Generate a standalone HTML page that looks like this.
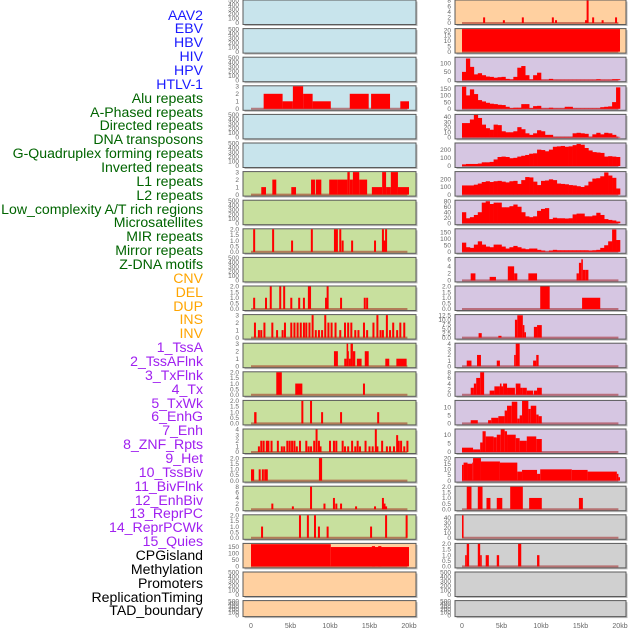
<!DOCTYPE html>
<html><head><meta charset="utf-8">
<style>
html,body{margin:0;padding:0;background:#fff;}
#wrap{position:relative;width:630px;height:630px;overflow:hidden;font-family:"Liberation Sans",sans-serif;}
#labels{position:absolute;left:0;top:0;width:203px;}
.lab{position:absolute;right:0;font-size:14.1px;line-height:14px;white-space:nowrap;}
svg{position:absolute;left:0;top:0;}
</style></head>
<body>
<div id="wrap">
<div id="labels"></div>
<svg id="chart" width="630" height="630"></svg>
</div>
<script>
const trackLabels = ["AAV2","EBV","HBV","HIV","HPV","HTLV-1","Alu repeats","A-Phased repeats","Directed repeats","DNA transposons","G-Quadruplex forming repeats","Inverted repeats","L1 repeats","L2 repeats","Low_complexity A/T rich regions","Microsatellites","MIR repeats","Mirror repeats","Z-DNA motifs","CNV","DEL","DUP","INS","INV","1_TssA","2_TssAFlnk","3_TxFlnk","4_Tx","5_TxWk","6_EnhG","7_Enh","8_ZNF_Rpts","9_Het","10_TssBiv","11_BivFlnk","12_EnhBiv","13_ReprPC","14_ReprPCWk","15_Quies","CPGisland","Methylation","Promoters","ReplicationTiming","TAD_boundary"];
const labelGroups = [6,13,5,15,5];
const xTicks = [0,5,10,15,20];
const xTickLabels = ["0","5kb","10kb","15kb","20kb"];

const E = ["0","100","200","300","400","500"];
const H2 = ["0.0","0.5","1.0","1.5","2.0"];
const T3 = ["0","1","2","3"];
const T4 = ["0","1","2","3","4"];
const T8 = ["0","2","4","6","8"];

const L_ticks = [E,E,E,T3,E,E,T3,E,H2,E,H2,T3,T3,H2,H2,T4,H2,T8,H2,["0","50","100","150"],E,E];
const L_ymax = [500,500,500,3,500,500,3,500,2,500,2,3,3,2,2,4,2,8,2,172,500,500];
const L_segs = [
 [],[],[],
 [[1.6,4.0,2],[4.0,5.3,1],[5.3,6.6,3],[6.6,7.8,2],[7.8,10.1,1],[12.5,14.9,2],[15.2,17.6,2],[18.9,20,1]],
 [],[],
 [[1.3,1.9,1],[2.7,3.2,2],[5.1,5.7,1],[7.6,8.1,2],[8.2,8.9,2],[9.9,10.9,2],[10.9,12.2,2],[12.2,12.5,3],[12.5,12.9,2],[12.9,13.7,3],[13.7,14.7,2],[15.3,16.6,1],[16.6,17.1,3],[17.1,17.7,1],[17.7,18.6,3],[18.6,20,1]],
 [],
 [[10.5,11.0,2]],
 [],
 [[7.2,7.6,2]],
 [],
 [[10.5,11.0,2],[11.8,12.1,1],[12.1,12.3,3],[12.3,12.4,2],[12.4,12.6,1],[12.6,12.9,3],[12.9,13.2,2],[13.4,14.0,1],[14.4,14.9,2],[17.0,17.5,1],[18.4,19.7,1]],
 [[3.2,3.9,2],[5.6,6.5,1]],
 [[0.4,0.7,1]],
 [],
 [[0.0,0.4,1],[8.6,9.0,2]],
 [],
 [],
 [[0,10.1,170],[10.1,20,148],[15.3,15.7,155],[16.1,16.5,155]],
 [],[]
];
const L_spikes = [
 [],[],[],[],[],[],[],[],
 [[0.4,2],[2.8,2],[5.2,1],[7.7,2],[11.3,2],[11.6,1],[12.8,1],[15.7,1],[16.7,2],[16.9,1],[17.1,2]],
 [],
 [[0.4,1],[1.9,1],[2.5,2],[3.7,2],[4.2,2],[5.1,1],[6.1,1],[6.7,1],[9.5,1],[9.7,2],[11.4,1],[14.4,1],[14.7,1]],
 [[0.5,2],[1.0,1],[1.3,1],[1.7,2],[2.7,2],[3.3,1],[4.0,1],[4.3,2],[5.1,2],[5.5,2],[5.9,2],[6.3,2],[6.7,2],[7.0,2],[7.4,2],[7.8,3],[8.2,1],[8.6,1],[9.0,1],[9.4,3],[9.8,2],[10.2,2],[10.7,2],[11.3,1],[11.9,2],[12.3,2],[12.7,2],[13.2,1],[13.6,1],[14.3,2],[14.7,1],[15.5,2],[16.0,3],[16.4,1],[16.7,1],[17.2,3],[17.6,1],[18.0,2],[18.5,1],[18.9,2],[19.4,2]],
 [],
 [[14.3,1]],
 [[6.5,2],[7.6,2],[9.0,1],[11.4,1],[16.1,1]],
 [[1.0,1],[1.3,2],[1.6,2],[2.0,2],[2.2,2],[2.6,2],[3.4,2],[3.9,1],[4.2,1],[4.6,2],[4.9,2],[5.2,2],[5.5,2],[5.8,1],[6.2,2],[7.0,2],[7.3,1],[7.6,1],[8.0,2],[8.3,4],[8.6,2],[8.8,1],[10.0,2],[10.5,2],[10.8,2],[11.6,2],[11.9,1],[12.3,1],[12.8,2],[13.2,1],[13.5,2],[13.8,1],[14.5,2],[15.0,1],[15.4,1],[15.8,4],[16.0,1],[16.6,2],[17.2,1],[17.6,1],[18.1,1],[18.5,3],[18.7,2],[19.0,2],[19.4,1],[19.8,2]],
 [[1.1,1],[1.5,1],[1.8,1],[2.0,1]],
 [[2.7,2],[5.3,1],[7.6,8],[9.3,2],[10.5,4],[10.8,2],[11.4,2],[13.3,1],[15.7,1],[16.7,4],[16.9,2],[17.1,1]],
 [[1.4,1],[6.2,2],[7.2,2],[8.1,2],[8.6,1],[9.7,1],[15.2,1],[17.1,2],[19.7,2]],
 [],[],[]
];

const R_ticks = [T8,["0","5","10","15","20"],["0","50","100"],["0","50","100","150"],["0","10","20","30","40"],["0","100","200"],["0","100","200"],["0","20","40","60","80"],["0","50","100","150"],["0","2","4","6"],H2,["0.0","2.5","5.0","7.5","10.0","12.5"],T4,T8,["0","5","10"],["0","5","10"],["0","5","10","15","20"],H2,["0","10","20","30","40"],H2,E,E];
const R_ymax = [8,21,135,168,44,275,295,82,172,6.4,2,12.6,4,8,14,13,20,2,45,2,500,500];
const R_bins = [
 null,null,
 [50,130,80,35,42,30,22,20,15,18,20,8,5,20,75,85,30,5,30,45,3,3,8,3,3,3,3,3,3,3,3,3,3,3,6,3,3,3,6,6],
 [165,100,145,110,65,55,45,38,35,30,28,15,5,8,8,35,35,5,20,22,3,3,8,3,3,3,15,15,3,3,3,3,3,3,3,12,15,18,50,160],
 [28,28,35,44,38,25,18,15,25,24,12,10,10,12,20,16,8,5,8,14,12,5,5,1,1,1,1,1,8,9,8,7,1,6,9,6,9,8,5,1],
 [20,25,25,25,30,45,45,50,80,110,115,110,95,100,115,125,135,150,155,200,195,180,200,235,240,245,235,240,255,270,260,220,190,170,165,160,115,120,115,110],
 [120,120,120,130,145,165,175,165,175,180,170,160,175,180,140,190,230,225,170,125,180,185,200,190,145,140,135,125,120,110,100,120,170,210,215,240,290,250,220,80],
 [40,18,22,30,40,75,80,70,75,75,58,58,62,68,60,40,25,22,25,45,52,55,15,20,18,18,17,18,32,35,35,25,25,28,38,30,15,12,10,6],
 [70,35,30,55,80,55,40,35,55,55,40,25,35,45,35,25,20,25,25,15,10,2,10,15,12,12,12,12,12,12,12,12,10,12,15,30,50,80,170,90],
 null,null,null,null,null,null,null,null,null,null,null,null,null
];
const R_segs = [
 [],
 [[0,20,21]],
 [],[],[],[],[],[],[],
 [[1.1,1.7,2],[3.5,4.3,1],[5.8,6.6,4],[6.6,7.0,2],[8.4,9.5,2],[14.5,14.8,2],[14.8,15.1,5],[15.1,15.3,6],[15.3,15.6,3],[15.6,16.0,3]],
 [[9.9,11.1,2],[15.2,17.5,1]],
 [[2.1,2.5,2.5],[4.6,5.0,1],[6.7,7.0,10],[7.0,7.7,12.5],[7.7,7.9,7],[7.9,8.1,3],[9.1,9.5,6],[9.5,10.1,7]],
 [[0.6,1.2,1],[1.9,2.4,2],[4.4,4.8,1],[6.6,6.8,2],[6.8,7.3,4],[9.0,9.4,1],[9.4,9.7,2]],
 [[1.1,1.5,2.5],[1.5,1.8,4],[1.8,2.3,6],[2.3,2.8,8],[3.5,4.1,1.5],[4.1,4.8,3],[4.8,5.0,4],[5.0,5.2,3],[5.2,5.7,4],[5.7,6.7,2.5],[6.8,7.4,4],[7.4,7.7,2.5],[7.7,8.2,2.5],[8.2,9.0,1.5],[9.1,9.5,1.5],[9.5,10.1,2.5]],
 [[1.1,2.0,2],[3.3,3.7,2],[3.7,4.6,3.5],[4.6,5.4,4.5],[5.4,5.7,8],[5.7,6.3,11],[6.3,7.0,13.5],[7.0,7.3,3],[7.3,7.6,5],[7.6,8.4,14],[8.4,8.7,9],[8.7,9.4,11],[9.4,9.7,5.5],[9.7,10.1,4.5]],
 [[0,1.4,2.5],[1.4,2.3,1.5],[2.3,2.6,5.5],[2.6,3.0,12],[3.0,4.0,9],[4.0,4.4,8.5],[4.4,4.9,10],[4.9,5.4,13],[5.4,5.7,12],[5.7,6.8,10],[6.8,7.3,8],[7.3,8.2,6.5],[8.2,9.4,9],[9.4,10.1,7.5]],
 [[0,0.2,14],[0.2,0.7,16],[0.7,1.3,15],[1.3,1.4,16],[1.4,2.4,20],[2.4,4.8,17],[4.8,7.0,16],[7.0,7.6,8],[7.6,9.5,9.5],[9.5,9.9,6],[9.9,13.9,10],[13.9,15.9,9.5],[15.9,19.6,8],[19.6,19.8,6],[19.8,20,3]],
 [[0.6,1.2,2],[2.0,2.6,2],[3.1,3.6,1],[4.4,5.1,1],[6.1,7.7,2],[8.5,10.1,1],[14.8,15.3,1]],
 [[0,0.2,45]],
 [[0.4,0.6,1],[0.6,0.9,2],[2.0,2.3,2],[2.3,2.5,1],[3.0,3.4,1],[4.4,4.7,1],[7.1,7.5,2],[9.5,9.8,1]],
 [],[]
];
const R_spikes = [
 [[2.8,2],[5.3,1],[7.7,2],[11.5,2],[11.9,1],[15.7,1],[15.9,8],[16.6,2],[17.8,1],[19.5,2]],
 [],[],[],[],[],[],[],[],[],[],[],[],[],[],[],[],[],[],[],[],[]
];

const blue="#c8e4ec", green="#c8e09e", orange="#ffd0a0", purple="#d6c6e2", gray="#d0d0d0";
const L_bg=[blue,blue,blue,blue,blue,blue,green,green,green,green,green,green,green,green,green,green,green,green,green,orange,orange,orange];
const R_bg=[orange,orange,purple,purple,purple,purple,purple,purple,purple,purple,purple,purple,purple,purple,purple,purple,purple,gray,gray,gray,gray,gray];

const NS="http://www.w3.org/2000/svg";
const svg=document.getElementById('chart');
function mk(tag,attrs,parent){const e=document.createElementNS(NS,tag);for(const k in attrs)e.setAttribute(k,attrs[k]);(parent||svg).appendChild(e);return e;}

const labColors=["#1a1aff","#006400","#ffa500","#a020f0","#000000"];
const labDiv=document.getElementById('labels');
let gi=0,cnt=0;
trackLabels.forEach((t,i)=>{
  while(cnt>=labelGroups[gi]){gi++;cnt=0;}
  cnt++;
  const d=document.createElement('div');
  d.className='lab';
  
  
  d.style.top=(15+i*13.86-7.5)+'px';
  d.style.color=labColors[gi];
  d.textContent=t;
  labDiv.appendChild(d);
});

function rowTop(i){return i*28.6;}
function rowH(i){return i===21?16:24.5;}

function drawCol(x0,x1,dx0,dx1,ticks,ymax,bins,segs,spikes,bgs,side){
  const xs=v=>dx0+(v/20)*(dx1-dx0);
  for(let i=0;i<22;i++){
    const top=rowTop(i),h=rowH(i),bot=top+h;
    const g=mk('g',{});
    
    
    mk('rect',{x:x0+1.5,y:top+1.5,width:x1-x0,height:h,fill:'#bbb'},g);
    mk('rect',{x:x0,y:top,width:x1-x0,height:h,fill:bgs[i],stroke:'#5a5a5a','stroke-width':1},g);
    const ys=v=>bot-1.5-(v/ymax[i])*(h-2);
    const hasData=(bins[i]&&bins[i].length)||segs[i].length||spikes[i].length;
    if(hasData){
      const bl=mk('line',{x1:xs(0),x2:xs(19.8),y1:bot-1.5,y2:bot-1.5,stroke:'rgba(150,0,0,0.45)','stroke-width':2},g);
      
      
    }
    if(bins[i]){
      bins[i].forEach((v,j)=>{
        const r=mk('rect',{x:xs(j*0.5),y:ys(v),width:xs((j+1)*0.5)-xs(j*0.5)+0.3,height:ys(0)-ys(v),fill:'#ff0000'},g);
        
        
      });
    }
    segs[i].forEach(s=>{
      const v=Math.min(s[2],ymax[i]);
      const r=mk('rect',{x:xs(s[0]),y:ys(v),width:xs(s[1])-xs(s[0]),height:ys(0)-ys(v),fill:'#ff0000'},g);
      
      
    });
    spikes[i].forEach(s=>{
      const r=mk('rect',{x:xs(s[0])-1,y:ys(s[1]),width:2,height:ys(0)-ys(s[1]),fill:'#ff0000'},g);
      
      
    });
    ticks[i].forEach(t=>{
      const v=parseFloat(t);
      const tx=mk('text',{x:x0-4,y:ys(v)+2.2,'text-anchor':'end','font-size':6.5,fill:'#666','font-family':'Liberation Sans, sans-serif'},g);
      
      
      tx.textContent=t;
    });
  }
  xTicks.forEach((v,k)=>{
    const tx=mk('text',{x:xs(v),y:628,'text-anchor':'middle','font-size':7,fill:'#666','font-family':'Liberation Sans, sans-serif'});
    
    
    tx.textContent=xTickLabels[k];
  });
}
drawCol(243,416,251,409,L_ticks,L_ymax,new Array(22).fill(null),L_segs,L_spikes,L_bg,'left');
drawCol(455,626,462,620,R_ticks,R_ymax,R_bins,R_segs,R_spikes,R_bg,'right');
</script>
</body></html>
